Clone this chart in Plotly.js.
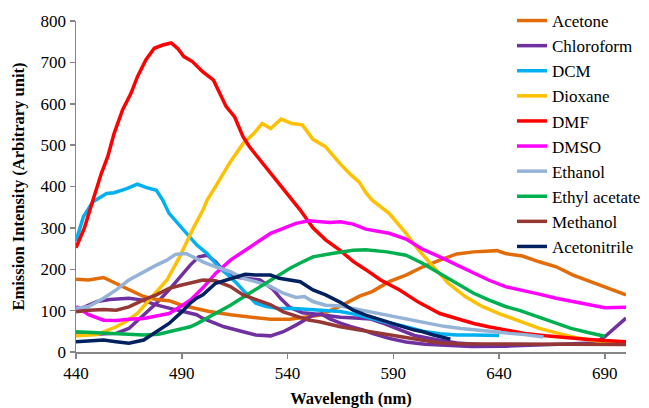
<!DOCTYPE html>
<html>
<head>
<meta charset="utf-8">
<script src="https://cdn.plot.ly/plotly-3.0.1.min.js"></script>
<style>
html,body{margin:0;padding:0;background:#fff;overflow:hidden;width:649px;height:408px;}
#chart{position:absolute;left:0;top:-12px;width:664px;height:420px;}
</style>
</head>
<body>
<div id="chart"></div>
<script>
// Series names (legend order)
const names = ["Acetone","Chloroform","DCM","Dioxane","DMF","DMSO","Ethanol","Ethyl acetate","Methanol","Acetonitrile"];
const colors = ["#E36C0A","#7030A0","#00B0F0","#FFC000","#FF0000","#FF00FF","#95B3D7","#00B050","#953735","#002060"];

// Wavelength (nm) / intensity pairs
const acetoneX = [440,446,453,459,465,472,478,484,490,497,503,513,522,532,541,550,555,565,574,580,588,596,604,612,620,628,635,639,643,651,659,667,675,683,690,700];
const acetoneY = [176,174,180,166,151,134,127,124,113,105,98,90,84,79,79,85,89,111,135,146,170,186,206,222,237,242,244,245,238,232,218,206,186,170,158,138];

const chloroformX = [440,445,450,456,465,471,478,484,490,497,500,510,519,525,532,538,544,549,552,556,560,565,570,576,580,588,596,605,615,627,643,660,675,685,690,695,700];
const chloroformY = [100,110,122,127,130,126,114,106,98,90,81,61,49,41,39,49,65,80,89,92,80,70,61,53,45,33,24,19,16,13,14,18,21,22,37,60,82];

// second purple trace (no separate legend entry in the original)
const chloroform2X = [440,450,459,465,471,478,484,490,494,498,502,506,510,514,520,527,533,537,541,547,553,558,565,572,579,586,592,600,610,620,630,640];
const chloroform2Y = [41,43,45,57,85,118,150,186,210,230,234,218,194,182,178,174,152,128,108,95,92,88,84,82,80,68,55,40,30,22,18,15];

const dcmX = [440,443.5,448,454.5,458,464,469,473,478,481,484,487.5,492,497,502,506,511,516,521,525,530,536,543,550,558,565,572,580,588,596,604,612,620,628,640];
const dcmY = [268,327,363,383,385,395,406,398,391,367,335,315,287,259,238,214,190,166,138,118,110,105,105,103,101,98,91,80,70,61,50,44,41,41,40];

const dioxaneX = [440,450,459,464,469,476,483,489,495,500,502,505,509,513,519,524,528,532,537,542,547,552,558,565,570,574,577,580,588,596,602,609,616,624,632,640,650,659,668,678,689,700];
const dioxaneY = [39,42,61,75,93,134,174,230,295,343,367,392,425,460,504,528,552,540,563,552,549,514,496,454,428,410,385,367,335,287,246,206,166,134,110,93,73,57,45,33,24,20];

const dmfX = [440,444,448,452,455,458,462,466,469,473,477,481,485,488,491,495,500,505,508,511,515,519,522,527,532,536,542,546,552,558,565,571,577,584,593,602,612,620,628,635,643,652,662,672,681,690,700];
const dmfY = [252,300,367,432,472,528,585,625,665,706,734,742,747,734,714,702,677,657,625,593,568,520,496,464,432,404,367,343,300,271,245,219,199,174,150,120,93,81,69,61,53,45,39,34,31,28,25];

const dmsoX = [440,446,453,459,465,472,478,484,490,494,500,506,513,519,525,532,538,544,550,556,560,565,571,577,583,588,596,604,612,620,628,635,643,651,659,667,675,683,690,700];
const dmsoY = [110,90,77,76,79,81,87,93,112,125,155,190,222,242,263,287,299,311,317,315,313,315,309,297,292,287,273,248,230,210,190,174,158,150,140,130,122,113,107,108];

const ethanolX = [440,446,453,459,465,472,478,483,487,492,497,500,506,513,519,525,532,538,544,548,552,558,565,571,577,587,596,606,614,622,630,638,645,652,661];
const ethanolY = [105,110,130,150,174,194,210,222,236,238,226,218,206,194,178,170,158,142,132,134,122,113,111,105,97,89,80,68,62,57,52,49,45,42,36];

const ethylAcetateX = [440,455,465,472,479,487,494,497,503,513,522,532,541,546,552,561,571,577,587,596,602,604,612,620,628,635,643,650,658,666,674,682,690];
const ethylAcetateY = [49,45,43,41,43,52,61,68,85,113,142,174,202,215,230,238,246,247,242,234,220,214,190,166,142,126,110,100,85,71,57,47,38];

const methanolX = [440,446,453,459,465,472,478,484,490,497,500,506,513,519,525,532,538,545,550,555,565,574,584,593,602,612,622,637,650,660,675,690,700];
const methanolY = [97,101,103,101,109,126,138,154,162,170,174,172,158,138,126,114,97,85,77,73,61,53,45,37,29,22,20,20,20,19,19,18,18];

const acetonitrileX = [440,446,453,459,465,472,478,484,490,494,497,500,506,513,520,525,532,536,541,546,552,558,565,571,577,587,591,596,600,604,609,612,617];
const acetonitrileY = [25,27,29,25,21,29,49,69,97,118,130,138,166,178,188,186,186,178,174,170,150,138,120,101,89,73,65,59,53,49,41,37,31];

const xs = [acetoneX, chloroformX, dcmX, dioxaneX, dmfX, dmsoX, ethanolX, ethylAcetateX, methanolX, acetonitrileX];
const ys = [acetoneY, chloroformY, dcmY, dioxaneY, dmfY, dmsoY, ethanolY, ethylAcetateY, methanolY, acetonitrileY];

const xTicks = [440,490,540,590,640,690];
const yTicks = [0,100,200,300,400,500,600,700,800];

const traces = [];
traces.push({x: chloroform2X, y: chloroform2Y, type: 'scatter', mode: 'lines', name: 'Chloroform', legendgroup: 'Chloroform', showlegend: false,
  line: {color: colors[1], width: 3.5}, hoverinfo: 'skip'});
for (let i = 0; i < names.length; i++) {
  traces.push({x: xs[i], y: ys[i], type: 'scatter', mode: 'lines', name: names[i], legendgroup: names[i],
    line: {color: colors[i], width: 3.5}});
}
const font = "Times New Roman, Liberation Serif, serif";
const layout = {
  width: 664, height: 420,
  margin: {l: 76, r: 38, t: 33, b: 56},
  paper_bgcolor: '#fff', plot_bgcolor: '#fff',
  font: {family: font, size: 17, color: '#000'},
  showlegend: true,
  legend: {x: 0.7927, y: 1.0544, xanchor: 'left', yanchor: 'top',
    bgcolor: 'rgba(0,0,0,0)', maxheight: 400,
    font: {family: font, size: 17, color: '#000'}, traceorder: 'normal', tracegroupgap: 0},
  xaxis: {range: [440, 700], tickvals: xTicks, ticktext: xTicks.map(String), showgrid: false, zeroline: false,
    showline: true, linecolor: '#868686', linewidth: 1.5, ticks: 'outside', ticklen: 5, tickcolor: '#868686', tickwidth: 1.5,
    tickfont: {family: font, size: 17, color: '#000'},
    title: {text: '<b>Wavelength (nm)</b>', font: {family: font, size: 16.5, color: '#000'}, standoff: 12}},
  yaxis: {range: [0, 800], tickvals: yTicks, ticktext: yTicks.map(String), showgrid: false, zeroline: false,
    showline: true, linecolor: '#868686', linewidth: 1.5, ticks: 'outside', ticklen: 5, tickcolor: '#868686', tickwidth: 1.5,
    tickfont: {family: font, size: 17, color: '#000'},
    title: {text: '<b>Emission Intensity (Arbitrary unit)</b>', font: {family: font, size: 16.5, color: '#000'}, standoff: 12}}
};
Plotly.newPlot('chart', traces, layout, {displayModeBar: false, staticPlot: true});
</script>
</body>
</html>
